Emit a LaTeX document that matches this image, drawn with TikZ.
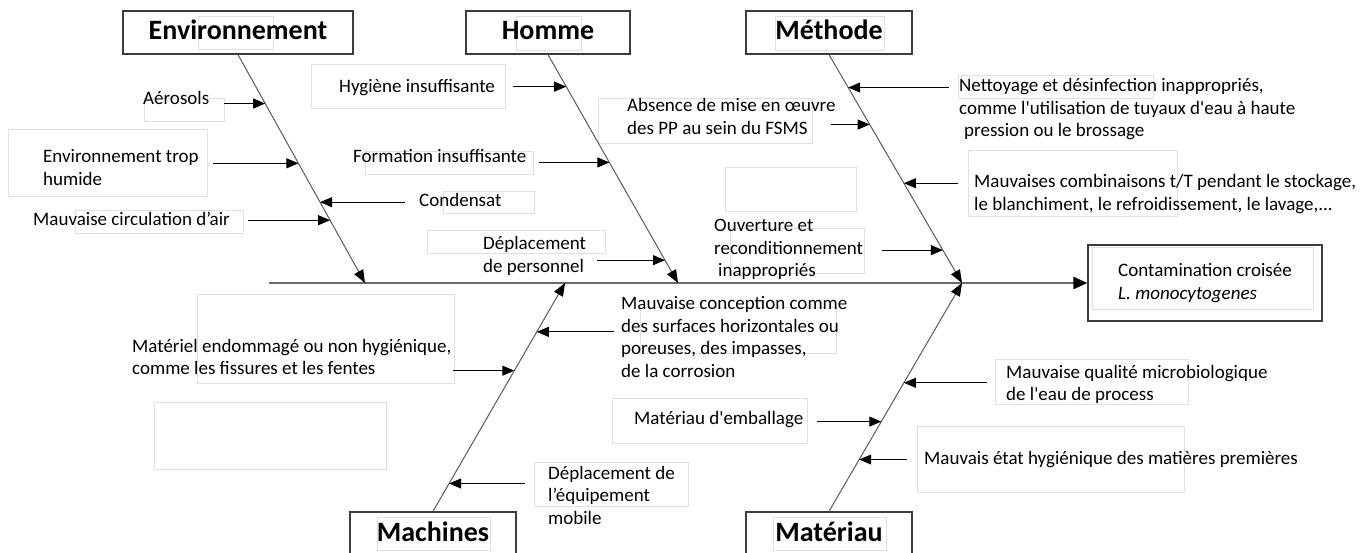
\documentclass[tikz,border=0pt]{standalone}
\usepackage{fontspec}
\setmainfont{Carlito}[Ligatures=TeXOff]
\usetikzlibrary{arrows.meta,calc}

\definecolor{boxgray}{HTML}{3C3C3C}
\definecolor{linegray}{HTML}{5A5A5A}
\definecolor{ghostgray}{HTML}{E0E0E0}

\begin{document}
\begin{tikzpicture}[x=1pt,y=-1pt,
  txt/.style={font=\fontsize{19}{22.5}\selectfont, inner sep=0pt, align=left, anchor=base west},
  category/.style={draw=boxgray, line width=1.3pt, font=\fontsize{28}{30}\selectfont\bfseries,
    minimum height=43pt, inner sep=0pt, text height=20pt, text depth=5pt},
  effectbox/.style={draw=boxgray, line width=1.3pt, font=\fontsize{19}{22.5}\selectfont,
    align=left, minimum width=234pt, minimum height=76pt, inner sep=0pt},
  spine/.style={draw=linegray, line width=1pt, -{Triangle[length=13pt,width=10pt,color=black]}},
  backbone/.style={draw=linegray!90, line width=2.5pt, -{Triangle[length=14pt,width=12pt,color=black]}},
  cause/.style={line width=1pt, -{Triangle[length=12pt,width=10pt]}},
  ghost/.style={draw=ghostgray, line width=0.8pt}]
  \useasboundingbox (0,0) rectangle (1365,553);

  % faint text frames left over from the original drawing
  \draw[ghost] (198,16) rectangle (273,49);
  \draw[ghost] (516,16) rectangle (581,50);
  \draw[ghost] (775,16) rectangle (884,50);
  \draw[ghost] (377,517) rectangle (490,550);
  \draw[ghost] (773,517) rectangle (886,550);
  \draw[ghost] (144,98) rectangle (224,121);
  \draw[ghost] (8,129) rectangle (207,196);
  \draw[ghost] (75,210) rectangle (243,233);
  \draw[ghost] (311,64) rectangle (505,108);
  \draw[ghost] (365,151) rectangle (533,174);
  \draw[ghost] (443,191) rectangle (534,213);
  \draw[ghost] (427,230) rectangle (605,253);
  \draw[ghost] (598,98) rectangle (812,143);
  \draw[ghost] (725,167) rectangle (856,211);
  \draw[ghost] (730,228) rectangle (864,273);
  \draw[ghost] (958,75) rectangle (1153,98);
  \draw[ghost] (968,150) rectangle (1177,216);
  \draw[ghost] (1092,247) rectangle (1313,309);
  \draw[ghost] (197,294) rectangle (454,383);
  \draw[ghost] (154,402) rectangle (386,469);
  \draw[ghost] (640,307) rectangle (836,353);
  \draw[ghost] (612,398) rectangle (807,443);
  \draw[ghost] (995,359) rectangle (1188,404);
  \draw[ghost] (917,426) rectangle (1184,492);
  \draw[ghost] (534,462) rectangle (688,506);

  % Categories
  \node[category, minimum width=230pt] (env) at (238,32.5) {Environnement};
  \node[category, minimum width=164pt] (homme) at (548,32.5) {Homme};
  \node[category, minimum width=166pt] (meth) at (829,32.5) {Méthode};
  \node[category, minimum width=166pt] (mach) at (433,533.5) {Machines};
  \node[category, minimum width=166pt] (mat) at (829,533.5) {Matériau};
  \node[effectbox] (eff) at (1205,283) {Contamination croisée\\\textit{L. monocytogenes}};

  % Backbone and spines
  \coordinate (tail) at (269,283);
  \coordinate (envE) at (365,283);
  \coordinate (hommeE) at (678,283);
  \coordinate (methE) at (962,283);
  \coordinate (machE) at (565,283);
  \coordinate (matE) at (962,283);
  \draw[backbone] (tail) -- (eff.west);
  \draw[spine] (env.south) -- (envE);
  \draw[spine] (homme.south) -- (hommeE);
  \draw[spine] (meth.south) -- (methE);
  \draw[spine] (mach.north) -- (machE);
  \draw[spine] (mat.north) -- (matE);

  % Points on the spines
  \coordinate (e1) at ($(env.south)!.214!(envE)$);
  \coordinate (e2) at ($(env.south)!.476!(envE)$);
  \coordinate (e3) at ($(env.south)!.646!(envE)$);
  \coordinate (e4) at ($(env.south)!.725!(envE)$);
  \coordinate (h1) at ($(homme.south)!.140!(hommeE)$);
  \coordinate (h2) at ($(homme.south)!.472!(hommeE)$);
  \coordinate (h3) at ($(homme.south)!.900!(hommeE)$);
  \coordinate (m1) at ($(meth.south)!.144!(methE)$);
  \coordinate (m2) at ($(meth.south)!.306!(methE)$);
  \coordinate (m3) at ($(meth.south)!.563!(methE)$);
  \coordinate (m4) at ($(meth.south)!.856!(methE)$);
  \coordinate (c1) at ($(mach.north)!.786!(machE)$);
  \coordinate (c2) at ($(mach.north)!.616!(machE)$);
  \coordinate (c3) at ($(mach.north)!.122!(machE)$);
  \coordinate (t1) at ($(mat.north)!.563!(matE)$);
  \coordinate (t2) at ($(mat.north)!.393!(matE)$);
  \coordinate (t3) at ($(mat.north)!.227!(matE)$);

  % Causes (base = baseline of the last line)
  \node[txt] (aero) at (143,105) {Aérosols};
  \node[txt] (humid) at (43,185.5) {Environnement trop\\humide};
  \node[txt] (cond) at (419,207) {Condensat};
  \node[txt] (circ) at (33,226) {Mauvaise circulation d’air};
  \node[txt] (hyg) at (339,93) {Hygiène insuffisante};
  \node[txt] (form) at (353,163) {Formation insuffisante};
  \node[txt] (depl) at (483,272.5) {Déplacement\\de personnel};
  \node[txt] (nett) at (959,137) {Nettoyage et désinfection inappropriés,\\comme l'utilisation de tuyaux d'eau à haute\\\hspace*{5pt}pression ou le brossage};
  \node[txt] (abs) at (627,134.5) {Absence de mise en œuvre\\des PP au sein du FSMS};
  \node[txt] (comb) at (974,210.5) {Mauvaises combinaisons t/T pendant le stockage,\\le blanchiment, le refroidissement, le lavage,...};
  \node[txt] (ouv) at (714,277) {Ouverture et\\reconditionnement\\\hspace*{4pt}inappropriés};
  \node[txt] (conc) at (621,377) {Mauvaise conception comme\\des surfaces horizontales ou\\poreuses, des impasses,\\de la corrosion};
  \node[txt] (endo) at (132,374.5) {Matériel endommagé ou non hygiénique,\\comme les fissures et les fentes};
  \node[txt] (equip) at (548,524) {Déplacement de\\l’équipement\\mobile};
  \node[txt] (qual) at (1006,400.5) {Mauvaise qualité microbiologique\\de l'eau de process};
  \node[txt] (emb) at (634,424) {Matériau d'emballage};
  \node[txt] (etat) at (924,464) {Mauvais état hygiénique des matières premières};

  % Arrows into the spines
  \draw[cause] ([xshift=-41pt]e1) -- (e1);
  \draw[cause] ([xshift=-85pt]e2) -- (e2);
  \draw[cause] ([xshift=85pt]e3) -- (e3);
  \draw[cause] ([xshift=-82pt]e4) -- (e4);
  \draw[cause] ([xshift=-53pt]h1) -- (h1);
  \draw[cause] ([xshift=-70pt]h2) -- (h2);
  \draw[cause] ([xshift=-68pt]h3) -- (h3);
  \draw[cause] ([xshift=101pt]m1) -- (m1);
  \draw[cause] ([xshift=-39pt]m2) -- (m2);
  \draw[cause] ([xshift=54pt]m3) -- (m3);
  \draw[cause] ([xshift=-61pt]m4) -- (m4);
  \draw[cause] ([xshift=77pt]c1) -- (c1);
  \draw[cause] ([xshift=-61pt]c2) -- (c2);
  \draw[cause] ([xshift=76pt]c3) -- (c3);
  \draw[cause] ([xshift=83pt]t1) -- (t1);
  \draw[cause] ([xshift=-64pt]t2) -- (t2);
  \draw[cause] ([xshift=48pt]t3) -- (t3);
\end{tikzpicture}
\end{document}
